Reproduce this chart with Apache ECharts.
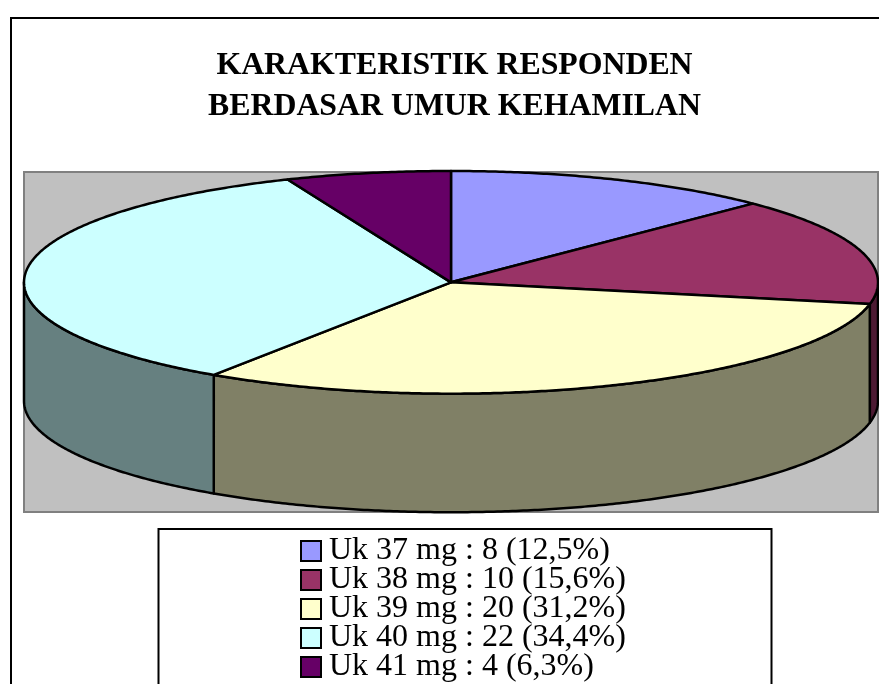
<!DOCTYPE html>
<html>
<head>
<meta charset="utf-8">
<title>Karakteristik responden</title>
<script src="https://cdn.jsdelivr.net/npm/echarts@6/dist/echarts.min.js"></script>
<style>
  html, body { margin: 0; padding: 0; background: #fff; }
  #chart { width: 879px; height: 684px; }
</style>
</head>
<body>
<div id="chart"></div>
<script>
// Chart data
var categories = [
    'Uk 37 mg : 8 (12,5%)',
    'Uk 38 mg : 10 (15,6%)',
    'Uk 39 mg : 20 (31,2%)',
    'Uk 40 mg : 22 (34,4%)',
    'Uk 41 mg : 4 (6,3%)'
];
var counts = [8, 10, 20, 22, 4];
var topColors = ['#9999FF', '#993366', '#FFFFCC', '#CCFFFF', '#660066'];
var wallColors = ['#4D4D80', '#4D1A33', '#808066', '#668080', '#330033'];

var total = counts.reduce(function (a, b) { return a + b; }, 0);

// Pie sits on a unit ellipse in axis space, wall drops by this many units
var wallDepth = 1.065;

var chart = echarts.init(document.getElementById('chart'));

// Angle in degrees, clockwise from 12 o'clock
function rimPoint(api, deg, drop) {
    var rad = deg * Math.PI / 180;
    return api.coord([Math.sin(rad), Math.cos(rad) - drop]);
}

function arcPoints(api, from, to, drop) {
    var pts = [];
    var steps = Math.max(2, Math.ceil((to - from) * 2));
    for (var i = 0; i <= steps; i++) {
        pts.push(rimPoint(api, from + (to - from) * i / steps, drop));
    }
    return pts;
}

function renderSlice(params, api) {
    var idx = params.seriesIndex;
    var before = counts.slice(0, idx).reduce(function (a, b) { return a + b; }, 0);
    var start = before / total * 360;
    var end = (before + api.value(0)) / total * 360;
    var children = [];

    // Only the part of the rim facing the viewer has a wall
    var wallFrom = Math.max(start, 90);
    var wallTo = Math.min(end, 270);
    if (wallTo > wallFrom) {
        var upper = arcPoints(api, wallFrom, wallTo, 0);
        var lower = arcPoints(api, wallFrom, wallTo, wallDepth).reverse();
        children.push({
            type: 'polygon',
            z2: 1,
            shape: { points: upper.concat(lower) },
            style: { fill: wallColors[idx], stroke: '#000', lineWidth: 2.5, lineJoin: 'round' }
        });
    }

    children.push({
        type: 'polygon',
        z2: 2,
        shape: { points: [api.coord([0, 0])].concat(arcPoints(api, start, end, 0)) },
        style: { fill: topColors[idx], stroke: '#000', lineWidth: 2.5, lineJoin: 'round' }
    });

    return { type: 'group', children: children };
}

chart.setOption({
    animation: false,
    backgroundColor: '#fff',

    title: {
        text: 'KARAKTERISTIK RESPONDEN\nBERDASAR UMUR KEHAMILAN',
        left: 449.5,
        top: 40,
        textAlign: 'center',
        textStyle: {
            fontFamily: '"Liberation Serif", serif',
            fontSize: 31.8,
            fontWeight: 'bold',
            lineHeight: 41,
            color: '#000'
        }
    },

    legend: {
        data: categories,
        orient: 'vertical',
        left: 295,
        top: 530,
        height: 400,
        padding: 5,
        align: 'left',
        icon: 'rect',
        itemWidth: 20,
        itemHeight: 20,
        itemGap: -3,
        selectedMode: false,
        itemStyle: { borderColor: '#000', borderWidth: 2 },
        textStyle: {
            fontFamily: '"Liberation Serif", serif',
            fontSize: 32,
            lineHeight: 20,
            padding: [0, 0, 0, 3],
            color: '#000'
        }
    },

    grid: {
        left: 24,
        top: 172,
        width: 854,
        height: 340,
        show: true,
        backgroundColor: '#C0C0C0',
        borderColor: '#808080',
        borderWidth: 2
    },
    xAxis: { type: 'value', min: -1, max: 1, show: false },
    yAxis: { type: 'value', min: -2.063, max: 0.991, show: false },

    // Chart frame and legend box run off the bottom of the picture
    graphic: [
        {
            type: 'rect',
            z: -1,
            shape: { x: 11, y: 18, width: 900, height: 720 },
            style: { fill: 'transparent', stroke: '#000', lineWidth: 2 }
        },
        {
            type: 'rect',
            z: -1,
            shape: { x: 158.5, y: 529, width: 613, height: 200 },
            style: { fill: '#fff', stroke: '#000', lineWidth: 2 }
        }
    ],

    series: categories.map(function (name, i) {
        return {
            name: name,
            type: 'custom',
            coordinateSystem: 'cartesian2d',
            silent: true,
            clip: false,
            itemStyle: { color: topColors[i] },
            encode: { x: 0, y: 0 },
            data: [[counts[i]]],
            renderItem: renderSlice
        };
    })
});
</script>
</body>
</html>
